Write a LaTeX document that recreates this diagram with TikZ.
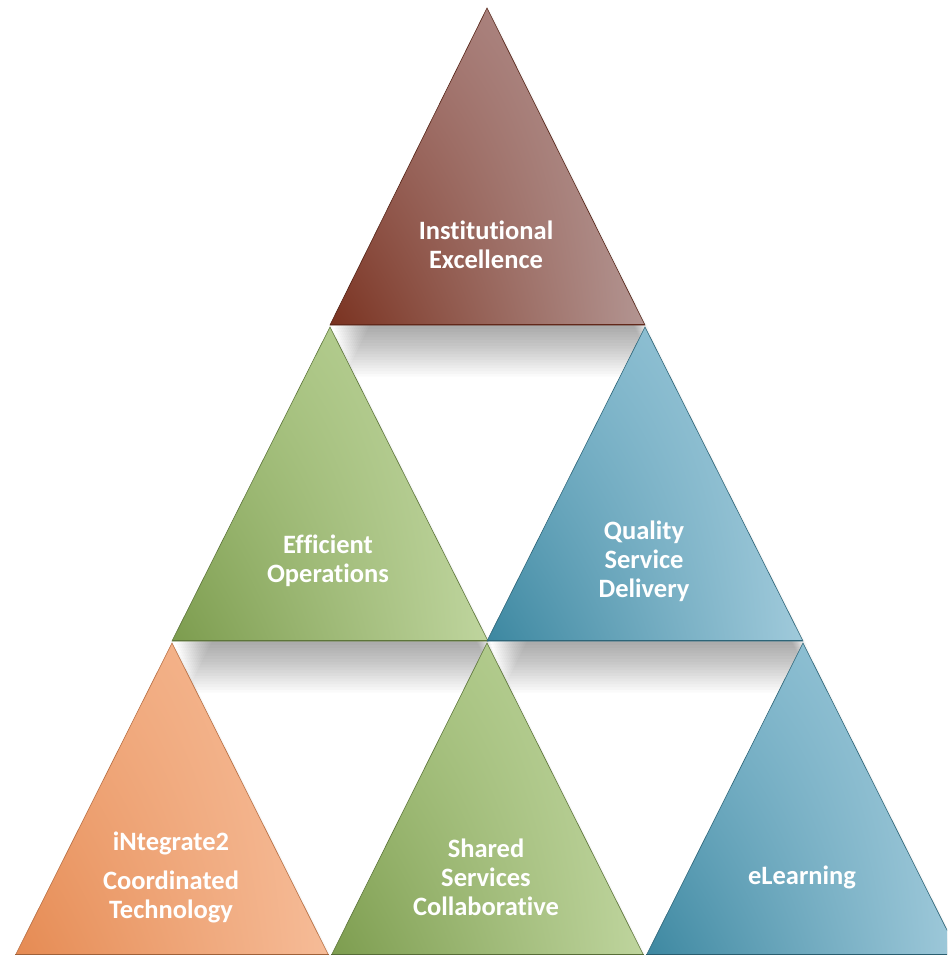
\documentclass[tikz,border=0pt]{standalone}
\usepackage{fontspec}
\setmainfont[Ligatures=NoCommon]{Carlito}
\usetikzlibrary{shadings}

% Palette of the six tiles
\definecolor{brownD}{HTML}{7A3220}
\definecolor{brownM}{HTML}{A06E68}
\definecolor{brownL}{HTML}{B39592}
\definecolor{greenD}{HTML}{7C9C4E}
\definecolor{greenM}{HTML}{A3C07A}
\definecolor{greenL}{HTML}{BFD59E}
\definecolor{blueD}{HTML}{3C87A0}
\definecolor{blueM}{HTML}{78B2C8}
\definecolor{blueL}{HTML}{A0CADB}
\definecolor{orangeD}{HTML}{E58A52}
\definecolor{orangeM}{HTML}{F0A678}
\definecolor{orangeL}{HTML}{F6BC98}

\tikzset{
  tile/.style={line width=0.6pt, line join=miter},
  browntile/.style={tile, draw=brownD!70!black,
    lower left=brownD, lower right=brownL, upper left=brownM, upper right=brownL},
  greentile/.style={tile, draw=greenD!75!black,
    lower left=greenD, lower right=greenL, upper left=greenM, upper right=greenL},
  bluetile/.style={tile, draw=blueD!75!black,
    lower left=blueD, lower right=blueL, upper left=blueM, upper right=blueL},
  orangetile/.style={tile, draw=orangeD!80!black,
    lower left=orangeD, lower right=orangeL, upper left=orangeM, upper right=orangeL},
  shadowlayer/.style={fill=black, fill opacity=0.018},
  baseline edge/.style={line width=1.6pt, line cap=butt},
  lbl/.style={text=white, align=center, inner sep=0pt,
    font=\bfseries\fontsize{26.5}{29}\selectfont}
}

% soft cast shadow of a triangle with apex #1, right corner #2, left corner #3
\newcommand\castshadow[3]{%
  \foreach \k in {0,...,17}{%
    \fill[shadowlayer, shift={(4+0.6*\k,4+2.8*\k)}] #1 -- #2 -- #3 -- cycle;
  }%
}

\begin{document}
\begin{tikzpicture}[x=1pt, y=-1pt]
\useasboundingbox (0,0) rectangle (947,955);
\clip (0,0) rectangle (947,955);
\fill[white] (0,0) rectangle (947,955);

% top row
\castshadow{(487,8)}{(645,325)}{(330,325)}
\path[browntile] (487,8) -- (645,325) -- (330,325) -- cycle;
\draw[baseline edge, draw=brownD!80!black] (331,324.5) -- (644,324.5);

% middle row
\castshadow{(330,327)}{(488,641)}{(172,641)}
\castshadow{(645,327)}{(803,641)}{(487,641)}
\path[greentile] (330,327) -- (488,641) -- (172,641) -- cycle;
\path[bluetile]  (645,327) -- (803,641) -- (487,641) -- cycle;
\draw[baseline edge, draw=greenD!75!black] (173,640.5) -- (487,640.5);
\draw[baseline edge, draw=blueD!75!black]  (488,640.5) -- (802,640.5);

% bottom row
\castshadow{(172,643)}{(330,958)}{(14,958)}
\castshadow{(487,643)}{(645,958)}{(330,958)}
\castshadow{(803,643)}{(961,958)}{(645,958)}
\path[orangetile] (172,643) -- (330,958) -- (14,958) -- cycle;
\path[greentile]  (487,643) -- (645,958) -- (330,958) -- cycle;
\path[bluetile]   (803,643) -- (961,958) -- (645,958) -- cycle;
\draw[baseline edge, draw=orangeD!70!black] (15,954.5) -- (329,954.5);
\draw[baseline edge, draw=greenD!70!black]  (331,954.5) -- (644,954.5);
\draw[baseline edge, draw=blueD!70!black]   (646,954.5) -- (947,954.5);

% captions
\node[lbl] (excellence) at (486,245) {Institutional\\Excellence};
\node[lbl] (operations) at (328,561) {Efficient\\Operations};
\node[lbl] (quality)    at (644,561) {Quality\\Service\\Delivery};
\node[lbl] (integrate)  at (171,877) {iNtegrate2\\[10pt]Coordinated\\Technology};
\node[lbl] (shared)     at (486,877) {Shared\\Services\\Collaborative};
\node[lbl] (elearning)  at (802,877) {eLearning};
\end{tikzpicture}
\end{document}
